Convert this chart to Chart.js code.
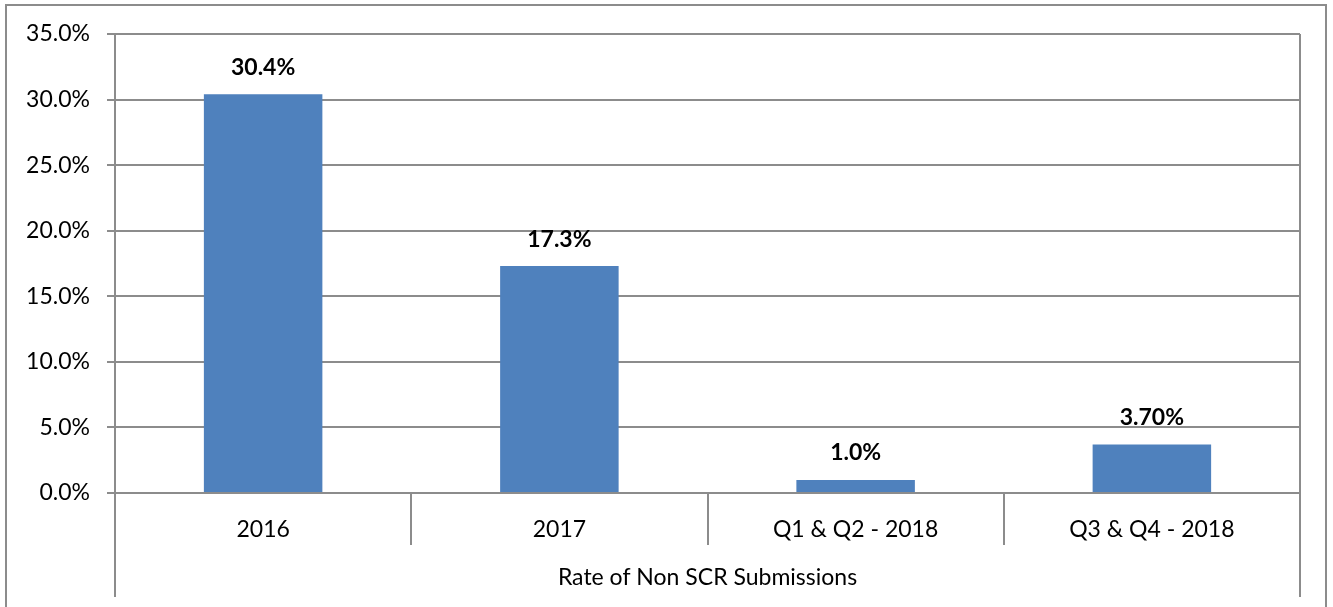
<!DOCTYPE html>
<html>
<head>
<meta charset="utf-8">
<script src="https://cdn.jsdelivr.net/npm/chart.js@4/dist/chart.umd.min.js"></script>
<style>
  html, body { margin: 0; padding: 0; background: #fff; }
  #wrap { width: 1333px; height: 607px; position: relative; }
</style>
</head>
<body>
<div id="wrap"><canvas id="c" width="1333" height="607"></canvas></div>
<script>
const categories = ["2016", "2017", "Q1 & Q2 - 2018", "Q3 & Q4 - 2018"];
const values = [30.4, 17.3, 1.0, 3.7];
const valueLabels = ["30.4%", "17.3%", "1.0%", "3.70%"];
const groupLabel = "Rate of Non SCR Submissions";
const yTicks = [0, 5, 10, 15, 20, 25, 30, 35];

const FONT = "Lato, 'Open Sans', sans-serif";
const FS = 23;
const GRID = "#8c8c8c";

const decor = {
  id: "decor",
  beforeDraw(chart) {
    const ctx = chart.ctx;
    ctx.save();
    ctx.fillStyle = "#fff";
    ctx.fillRect(0, 0, chart.width, chart.height);
    ctx.strokeStyle = "#8c8c8c";
    ctx.lineWidth = 2;
    ctx.strokeRect(6, 5, 1320, 620);
    ctx.restore();
  },
  afterDraw(chart) {
    const ctx = chart.ctx;
    const a = chart.chartArea;
    ctx.save();
    ctx.strokeStyle = GRID;
    ctx.lineWidth = 2;
    const n = categories.length;
    const step = (a.right - a.left) / n;
    for (let i = 0; i <= n; i++) {
      const x = Math.round(a.left + step * i);
      const bottom = (i === 0 || i === n) ? 597 : 545;
      ctx.beginPath();
      if (i !== 0 && i !== n) ctx.moveTo(x, a.bottom); else ctx.moveTo(x, a.top);
      ctx.lineTo(x, bottom);
      ctx.stroke();
    }
    ctx.fillStyle = "#000";
    ctx.font = FS + "px " + FONT;
    ctx.textAlign = "center";
    ctx.textBaseline = "middle";
    ctx.fillText(groupLabel, (a.left + a.right) / 2, 578);
    ctx.font = "bold " + FS + "px " + FONT;
    const meta = chart.getDatasetMeta(0);
    meta.data.forEach((bar, i) => {
      ctx.fillText(valueLabels[i], bar.x, bar.y - 27);
    });
    ctx.restore();
  }
};

new Chart(document.getElementById("c"), {
  type: "bar",
  data: {
    labels: categories,
    datasets: [{
      data: values,
      backgroundColor: "#4F81BD",
      borderWidth: 0,
      categoryPercentage: 1,
      barPercentage: 0.4
    }]
  },
  options: {
    responsive: false,
    animation: false,
    events: [],
    layout: { padding: { top: 34, left: 0, right: 33, bottom: 10 } },
    plugins: { legend: { display: false }, tooltip: { enabled: false } },
    scales: {
      x: {
        grid: { display: false },
        border: { display: false },
        ticks: { color: "#000", font: { family: FONT, size: FS }, padding: 15, maxRotation: 0 },
        afterFit(s) { s.height = 104; }
      },
      y: {
        min: 0, max: 35,
        afterBuildTicks(s) { s.ticks = yTicks.map(v => ({ value: v })); },
        grid: { color: GRID, lineWidth: 2, tickLength: 8, drawTicks: true },
        border: { display: true, color: GRID, width: 2 },
        ticks: {
          color: "#000", padding: 17,
          font: { family: FONT, size: FS },
          callback: v => v.toFixed(1) + "%"
        },
        afterFit(s) { s.width = 115; }
      }
    }
  },
  plugins: [decor]
});
</script>
</body>
</html>
